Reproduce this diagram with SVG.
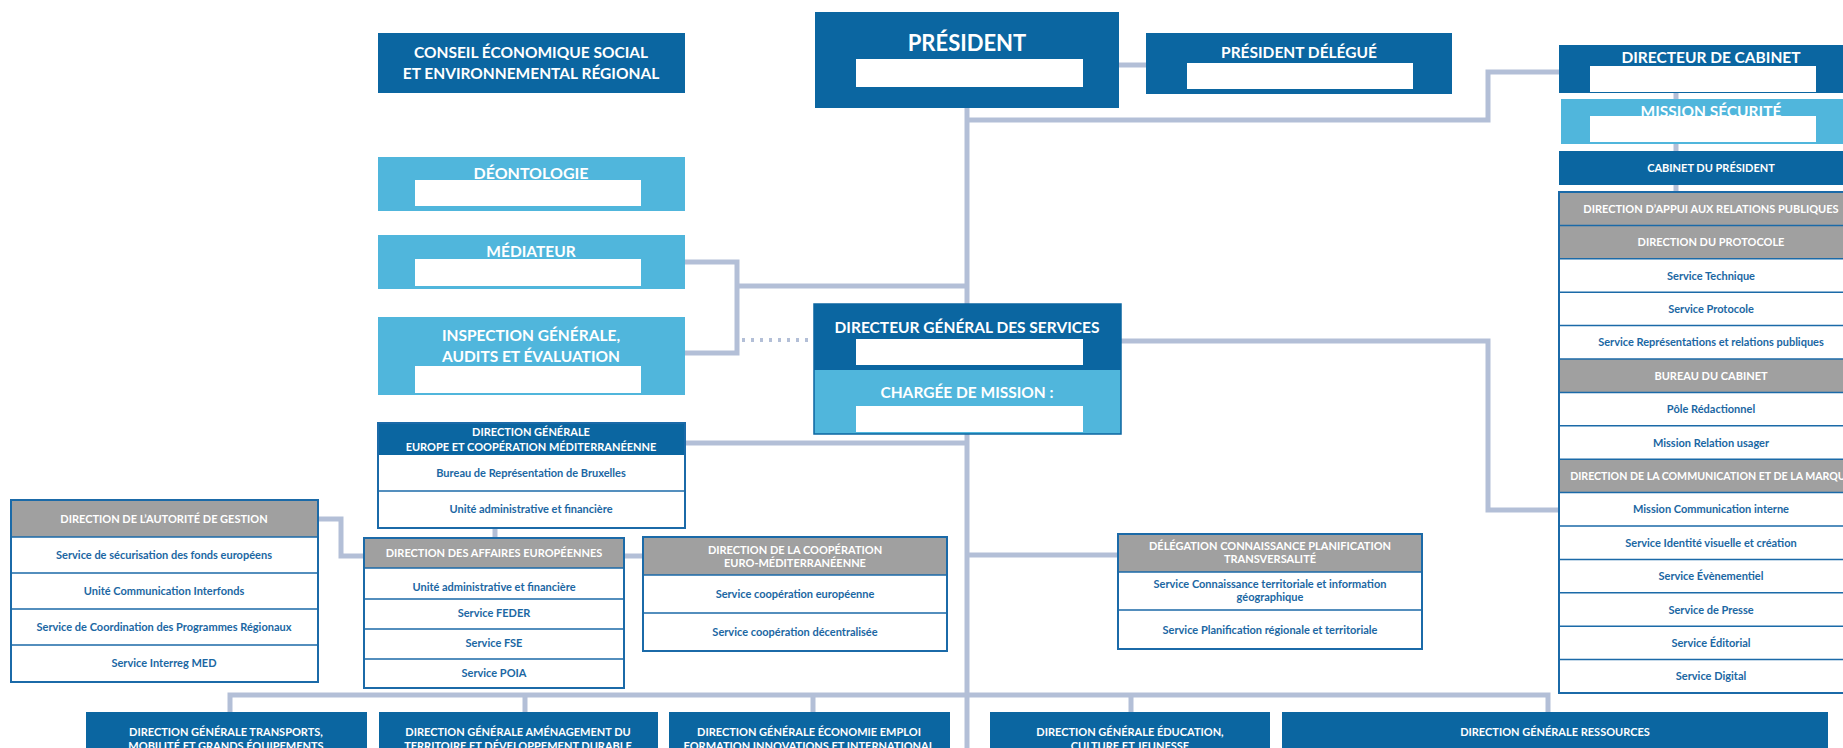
<svg xmlns="http://www.w3.org/2000/svg" width="1843" height="748" viewBox="0 0 1843 748">
<style>
.dk{fill:#0b66a1}
.lt{fill:#50b6dc}
.gr{fill:#a0a0a0}
.wh{fill:#fff}
.frame{fill:none;stroke:#1b6aa8;stroke-width:2}
.dv{stroke:#1b6aa8;stroke-width:1.5}
.t{font-family:Lato,"Liberation Sans",sans-serif;font-weight:700;text-anchor:middle}
.tw{fill:#fff}
.tb{fill:#1b67a3}
.s22{font-size:22px}.s16{font-size:16px}.s155{font-size:15.5px}.s11{font-size:11px}.s106{font-size:10.6px}
.conn{fill:none;stroke:#b3bfd7;stroke-width:5}
.dot{fill:none;stroke:#b3bfd7;stroke-width:4;stroke-dasharray:3 6}
</style>
<rect width="1843" height="748" fill="#fff"/>
<g id="connectors">
<path class="conn" d="M967 108 V748"/>
<path class="conn" d="M1119 65 H1146"/>
<path class="conn" d="M967 120 H1488 V72 H1559"/>
<path class="conn" d="M1676 93 V192"/>
<path class="conn" d="M685 262 H737 V353 H685 M737 286 H967"/>
<path class="dot" d="M742 340 H812"/>
<path class="conn" d="M1121 341 H1488 V510 H1559"/>
<path class="conn" d="M685 443 H967"/>
<path class="conn" d="M495 528 V538"/>
<path class="conn" d="M318 519 H341 V556 H364"/>
<path class="conn" d="M624 556 H643"/>
<path class="conn" d="M967 555 H1118"/>
<path class="conn" d="M230 712 V695 H1548 V712 M525 695 V712 M813 695 V712 M1131 695 V712"/>
</g>
<g id="conseil">
<rect class="dk" x="378" y="33" width="307" height="60"/>
<text class="t tw s155" x="531" y="58">CONSEIL ÉCONOMIQUE SOCIAL</text>
<text class="t tw s155" x="531" y="79">ET ENVIRONNEMENTAL RÉGIONAL</text>
</g>
<g id="president">
<rect class="dk" x="815" y="12" width="304" height="96"/>
<text class="t tw s22" x="967" y="51">PRÉSIDENT</text>
<rect class="wh" x="856" y="59" width="227" height="28"/>
</g>
<g id="president-delegue">
<rect class="dk" x="1146" y="33" width="306" height="61"/>
<text class="t tw s155" x="1299" y="58">PRÉSIDENT DÉLÉGUÉ</text>
<rect class="wh" x="1187" y="63" width="226" height="26"/>
</g>
<g id="directeur-cabinet">
<rect class="dk" x="1559" y="45" width="310" height="48"/>
<text class="t tw s155" x="1711" y="63">DIRECTEUR DE CABINET</text>
<rect class="wh" x="1590" y="66" width="226" height="26"/>
</g>
<g id="mission-securite">
<rect class="lt" x="1561" y="99" width="308" height="45"/>
<text class="t tw s155" x="1711" y="117">MISSION SÉCURITÉ</text>
<rect class="wh" x="1590" y="116" width="226" height="26"/>
</g>
<g id="cabinet-president">
<rect class="dk" x="1559" y="151" width="310" height="34"/>
<text class="t tw s11" x="1711" y="171.5">CABINET DU PRÉSIDENT</text>
</g>
<g id="cabinet-services">
<rect class="wh" x="1559" y="192" width="310" height="501"/>
<rect class="gr" x="1559" y="192" width="310" height="66.8"/>
<rect class="gr" x="1559" y="359" width="310" height="33.4"/>
<rect class="gr" x="1559" y="459.2" width="310" height="33.4"/>
<path class="dv" d="M1559 225.4 H1869 M1559 258.8 H1869 M1559 292.2 H1869 M1559 325.6 H1869 M1559 359 H1869 M1559 392.4 H1869 M1559 425.8 H1869 M1559 459.2 H1869 M1559 492.6 H1869 M1559 526 H1869 M1559 559.4 H1869 M1559 592.8 H1869 M1559 626.2 H1869 M1559 659.6 H1869"/>
<rect class="frame" x="1559" y="192" width="310" height="501"/>
<text class="t tw s11" x="1711" y="212.8">DIRECTION D’APPUI AUX RELATIONS PUBLIQUES</text>
<text class="t tw s11" x="1711" y="246.2">DIRECTION DU PROTOCOLE</text>
<text class="t tb s11" x="1711" y="279.6">Service Technique</text>
<text class="t tb s11" x="1711" y="313">Service Protocole</text>
<text class="t tb s11" x="1711" y="346.4">Service Représentations et relations publiques</text>
<text class="t tw s11" x="1711" y="379.8">BUREAU DU CABINET</text>
<text class="t tb s11" x="1711" y="413.2">Pôle Rédactionnel</text>
<text class="t tb s11" x="1711" y="446.6">Mission Relation usager</text>
<text class="t tw s106" x="1711" y="480">DIRECTION DE LA COMMUNICATION ET DE LA MARQUE</text>
<text class="t tb s11" x="1711" y="513.4">Mission Communication interne</text>
<text class="t tb s11" x="1711" y="546.8">Service Identité visuelle et création</text>
<text class="t tb s11" x="1711" y="580.2">Service Évènementiel</text>
<text class="t tb s11" x="1711" y="613.6">Service de Presse</text>
<text class="t tb s11" x="1711" y="647">Service Éditorial</text>
<text class="t tb s11" x="1711" y="680.4">Service Digital</text>
</g>
<g id="deontologie">
<rect class="lt" x="378" y="157" width="307" height="54"/>
<text class="t tw s16" x="531" y="178.5">DÉONTOLOGIE</text>
<rect class="wh" x="415" y="180" width="226" height="26"/>
</g>
<g id="mediateur">
<rect class="lt" x="378" y="235" width="307" height="54"/>
<text class="t tw s155" x="531" y="256.5">MÉDIATEUR</text>
<rect class="wh" x="415" y="259" width="226" height="27"/>
</g>
<g id="inspection">
<rect class="lt" x="378" y="317" width="307" height="78"/>
<text class="t tw s155" x="531" y="341">INSPECTION GÉNÉRALE,</text>
<text class="t tw s155" x="531" y="362">AUDITS ET ÉVALUATION</text>
<rect class="wh" x="415" y="366" width="226" height="27"/>
</g>
<g id="dgs">
<rect class="dk" x="814" y="304" width="307" height="66"/>
<rect class="lt" x="814" y="370" width="307" height="64"/>
<rect fill="none" stroke="#0b66a1" stroke-width="1.5" x="814" y="304" width="307" height="130"/>
<text class="t tw s155" x="967" y="332.5">DIRECTEUR GÉNÉRAL DES SERVICES</text>
<rect class="wh" x="856" y="339" width="227" height="26"/>
<text class="t tw s155" x="967" y="397.5">CHARGÉE DE MISSION :</text>
<rect class="wh" x="856" y="406" width="227" height="26"/>
</g>
<g id="dg-europe">
<rect class="wh" x="378" y="423" width="307" height="105"/>
<rect class="dk" x="378" y="423" width="307" height="32"/>
<path class="dv" d="M378 491 H685"/>
<rect class="frame" x="378" y="423" width="307" height="105"/>
<text class="t tw s11" x="531" y="435.5">DIRECTION GÉNÉRALE</text>
<text class="t tw s11" x="531" y="450.5">EUROPE ET COOPÉRATION MÉDITERRANÉENNE</text>
<text class="t tb s11" x="531" y="476.5">Bureau de Représentation de Bruxelles</text>
<text class="t tb s11" x="531" y="513">Unité administrative et financière</text>
</g>
<g id="autorite-gestion">
<rect class="wh" x="11" y="500" width="307" height="182"/>
<rect class="gr" x="11" y="500" width="307" height="37"/>
<path class="dv" d="M11 537 H318 M11 573 H318 M11 609 H318 M11 645 H318"/>
<rect class="frame" x="11" y="500" width="307" height="182"/>
<text class="t tw s11" x="164" y="523">DIRECTION DE L’AUTORITÉ DE GESTION</text>
<text class="t tb s11" x="164" y="559">Service de sécurisation des fonds européens</text>
<text class="t tb s11" x="164" y="595">Unité Communication Interfonds</text>
<text class="t tb s11" x="164" y="631">Service de Coordination des Programmes Régionaux</text>
<text class="t tb s11" x="164" y="667">Service Interreg MED</text>
</g>
<g id="affaires-europeennes">
<rect class="wh" x="364" y="538" width="260" height="150"/>
<rect class="gr" x="364" y="538" width="260" height="30"/>
<path class="dv" d="M364 568 H624 M364 599 H624 M364 629 H624 M364 659 H624"/>
<rect class="frame" x="364" y="538" width="260" height="150"/>
<text class="t tw s11" x="494" y="557">DIRECTION DES AFFAIRES EUROPÉENNES</text>
<text class="t tb s11" x="494" y="591">Unité administrative et financière</text>
<text class="t tb s11" x="494" y="617">Service FEDER</text>
<text class="t tb s11" x="494" y="647">Service FSE</text>
<text class="t tb s11" x="494" y="677">Service POIA</text>
</g>
<g id="cooperation">
<rect class="wh" x="643" y="537" width="304" height="114"/>
<rect class="gr" x="643" y="537" width="304" height="38"/>
<path class="dv" d="M643 575 H947 M643 613 H947"/>
<rect class="frame" x="643" y="537" width="304" height="114"/>
<text class="t tw s11" x="795" y="554">DIRECTION DE LA COOPÉRATION</text>
<text class="t tw s11" x="795" y="566.5">EURO-MÉDITERRANÉENNE</text>
<text class="t tb s11" x="795" y="598">Service coopération européenne</text>
<text class="t tb s11" x="795" y="636">Service coopération décentralisée</text>
</g>
<g id="delegation">
<rect class="wh" x="1118" y="534" width="304" height="115"/>
<rect class="gr" x="1118" y="534" width="304" height="38"/>
<path class="dv" d="M1118 572 H1422 M1118 610 H1422"/>
<rect class="frame" x="1118" y="534" width="304" height="115"/>
<text class="t tw s11" x="1270" y="550">DÉLÉGATION CONNAISSANCE PLANIFICATION</text>
<text class="t tw s11" x="1270" y="563">TRANSVERSALITÉ</text>
<text class="t tb s11" x="1270" y="588">Service Connaissance territoriale et information</text>
<text class="t tb s11" x="1270" y="601">géographique</text>
<text class="t tb s11" x="1270" y="634">Service Planification régionale et territoriale</text>
</g>
<g id="dg-transports">
<rect class="dk" x="86" y="712" width="281" height="50"/>
<text class="t tw s11" x="226" y="736">DIRECTION GÉNÉRALE TRANSPORTS,</text>
<text class="t tw s11" x="226" y="750">MOBILITÉ ET GRANDS ÉQUIPEMENTS</text>
</g>
<g id="dg-amenagement">
<rect class="dk" x="379" y="712" width="279" height="50"/>
<text class="t tw s11" x="518" y="736">DIRECTION GÉNÉRALE AMÉNAGEMENT DU</text>
<text class="t tw s11" x="518" y="750">TERRITOIRE ET DÉVELOPPEMENT DURABLE</text>
</g>
<g id="dg-economie">
<rect class="dk" x="669" y="712" width="281" height="50"/>
<text class="t tw s11" x="809" y="736">DIRECTION GÉNÉRALE ÉCONOMIE EMPLOI</text>
<text class="t tw s11" x="809" y="750">FORMATION INNOVATIONS ET INTERNATIONAL</text>
</g>
<g id="dg-education">
<rect class="dk" x="990" y="712" width="280" height="50"/>
<text class="t tw s11" x="1130" y="736">DIRECTION GÉNÉRALE ÉDUCATION,</text>
<text class="t tw s11" x="1130" y="750">CULTURE ET JEUNESSE</text>
</g>
<g id="dg-ressources">
<rect class="dk" x="1282" y="712" width="546" height="50"/>
<text class="t tw s11" x="1555" y="736">DIRECTION GÉNÉRALE RESSOURCES</text>
</g>
</svg>
